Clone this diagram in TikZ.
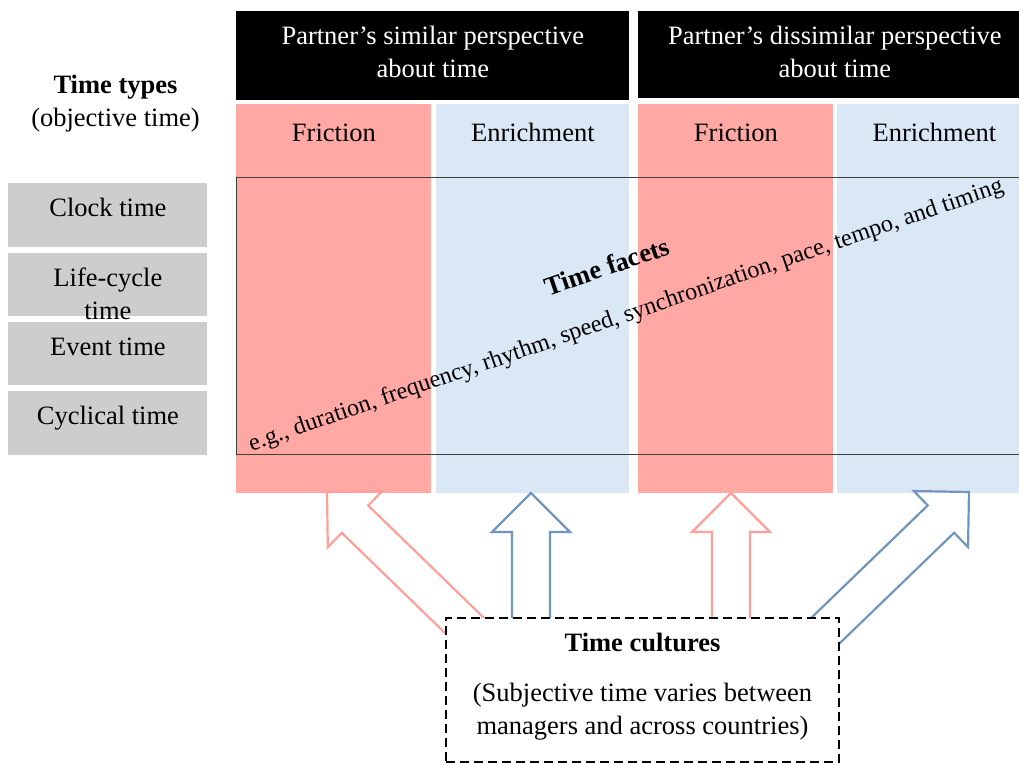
\documentclass[tikz,border=0pt]{standalone}
\usepackage{fontspec}
\setmainfont{Liberation Serif}
\usetikzlibrary{calc,positioning}

\definecolor{frictionred}{HTML}{FFA8A4}
\definecolor{enrichblue}{HTML}{DAE7F5}
\definecolor{typegray}{HTML}{CDCDCD}
\definecolor{arrowred}{HTML}{FF9F9B}
\definecolor{arrowblue}{HTML}{7096BF}

\tikzset{
  txt/.style={font=\fontsize{13.25}{16.5}\selectfont, inner sep=0pt, align=center},
  headbox/.style={fill=black, minimum width=196.5pt, minimum height=44.5pt, anchor=north west, inner sep=0pt},
  colbox/.style={minimum width=97.5pt, minimum height=194.5pt, anchor=north west, inner sep=0pt},
  typebox/.style={fill=typegray, minimum width=99.5pt, minimum height=32pt, anchor=north west, inner sep=0pt},
  bigarrow/.style={line width=1.1pt, line join=miter},
}

% block arrow from #1 (start) to #2 (tip)
\newcommand{\blockarrow}[3]{%
  \coordinate (hb) at ($(#2)!19.5pt!(#1)$);
  \draw[bigarrow,#3] ($(#1)!9.5pt!90:(#2)$) -- ($(hb)!9.5pt!90:(#2)$)
    -- ($(hb)!19.5pt!90:(#2)$) -- (#2) -- ($(hb)!19.5pt!-90:(#2)$)
    -- ($(hb)!9.5pt!-90:(#2)$) -- ($(#1)!9.5pt!-90:(#2)$) -- cycle;
}

\begin{document}
\begin{tikzpicture}[x=0.5pt,y=-0.5pt]
  \useasboundingbox (0,0) rectangle (1019,763);
  \clip (0,0) rectangle (1019,763);

  % headers
  \node[headbox] (sim) at (236,11) {};
  \node[headbox, minimum height=43.5pt] (dis) at (638,11) {};
  \node[txt, text=white, anchor=base] at ($(sim.north)+(0,67)$) {Partner’s similar perspective\\about time};
  \node[txt, text=white, anchor=base] at ($(dis.north)+(0,67)$) {Partner’s dissimilar perspective\\about time};

  % columns
  \node[colbox, fill=frictionred] (fr1) at (236,104) {};
  \node[colbox, fill=enrichblue, minimum width=96.5pt] (en1) at (436,104) {};
  \node[colbox, fill=frictionred] (fr2) at (638,104) {};
  \node[colbox, fill=enrichblue, minimum width=97pt] (en2) at (837,104) {};
  \node[txt, anchor=base] at ($(fr1.north)+(0,38)$) {Friction};
  \node[txt, anchor=base] at ($(en1.north)+(0,38)$) {Enrichment};
  \node[txt, anchor=base] at ($(fr2.north)+(0,38)$) {Friction};
  \node[txt, anchor=base] at ($(en2.north)+(0,38)$) {Enrichment};

  % time types
  \node[txt, anchor=base] (types) at (115.5,127) {\textbf{Time types}\\(objective time)};
  \node[typebox] (clock) at (8,183) {};
  \node[typebox, minimum height=31.5pt] (life) at (8,253) {};
  \node[typebox, minimum height=31.5pt] (event) at (8,322) {};
  \node[typebox] (cycl) at (8,391) {};
  \node[txt, anchor=base] at ($(clock.north)+(0,34)$) {Clock time};
  \node[txt, anchor=base] at ($(life.north)+(0,67)$) {Life-cycle\\time};
  \node[txt, anchor=base] at ($(event.north)+(0,34)$) {Event time};
  \node[txt, anchor=base] at ($(cycl.north)+(0,34)$) {Cyclical time};

  % time facets
  \draw[line width=0.5pt, black!75] (236,178) rectangle (1030,455);
  \node[txt, rotate=19, anchor=base, font=\fontsize{13.25}{16.5}\selectfont\bfseries] (facets) at (610,275) {Time facets};
  \node[txt, rotate=19, anchor=base, font=\fontsize{12.1}{15}\selectfont] (facetlist) at (628,321.5)
    {e.g., duration, frequency, rhythm, speed, synchronization, pace, tempo, and timing};

  % arrows
  \coordinate (s1) at (500,660);
  \coordinate (t1) at (327,492);
  \coordinate (s2) at (531,660);
  \coordinate (t2) at (531,493);
  \coordinate (s3) at (731,660);
  \coordinate (t3) at (731,493);
  \coordinate (s4) at (795,660);
  \coordinate (t4) at (969,492);
  \blockarrow{s1}{t1}{arrowred}
  \blockarrow{s2}{t2}{arrowblue}
  \blockarrow{s3}{t3}{arrowred}
  \blockarrow{s4}{t4}{arrowblue}

  % time cultures
  \node[fill=white, draw=black, line width=1pt, dash pattern=on 4.5pt off 2.5pt,
        minimum width=196.5pt, minimum height=72pt, anchor=north west, inner sep=0pt] (cult) at (445,617) {};
  \node[txt, anchor=base, font=\fontsize{13.25}{16.5}\selectfont\bfseries] at ($(cult.north)+(0,35)$) {Time cultures};
  \node[txt, anchor=base] at ($(cult.north)+(0,118)$) {(Subjective time varies between\\managers and across countries)};
\end{tikzpicture}
\end{document}
